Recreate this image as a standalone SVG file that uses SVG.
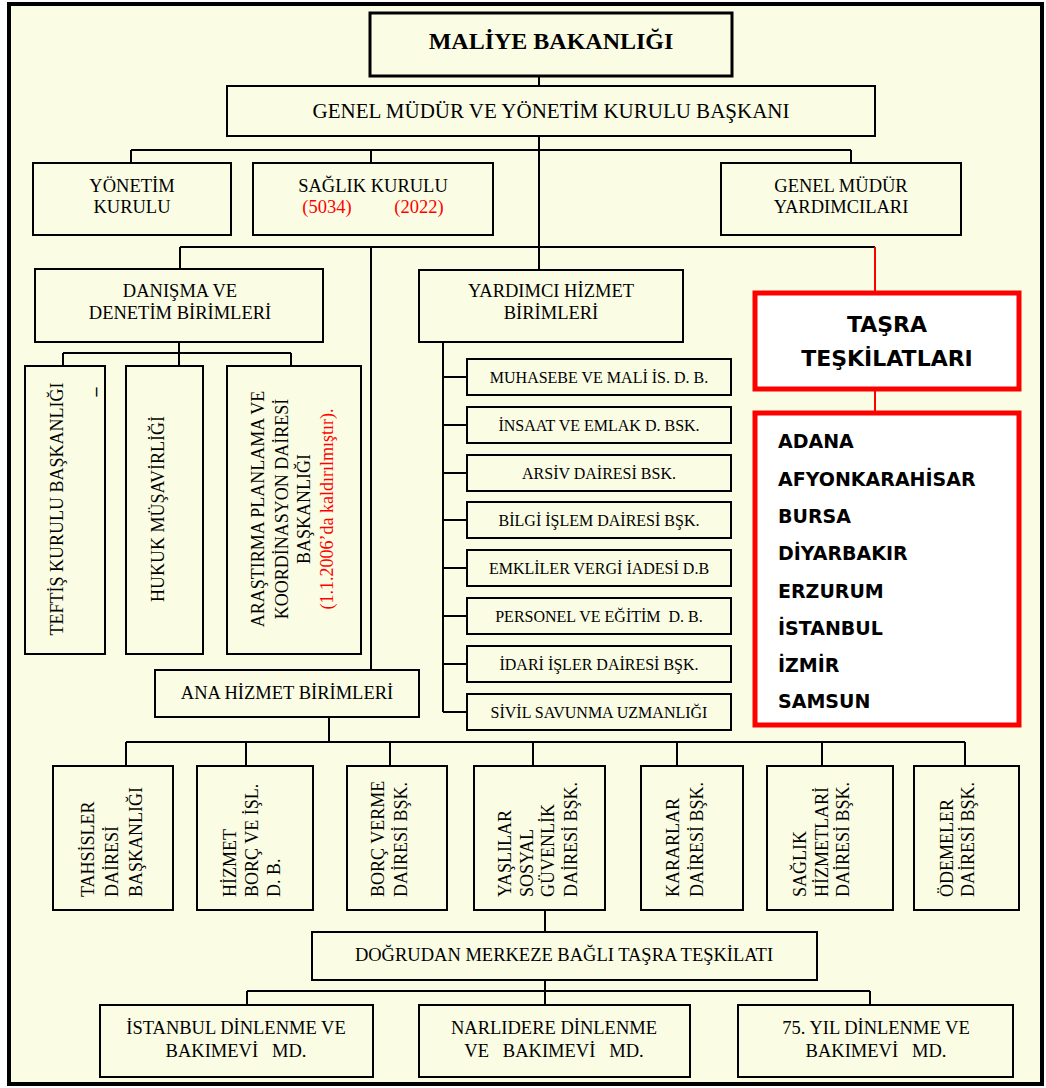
<svg xmlns="http://www.w3.org/2000/svg" width="1046" height="1088" viewBox="0 0 1046 1088">
<style>
.frame{fill:#FAFDE4;stroke:#000;stroke-width:4}
.b{fill:none;stroke:#000;stroke-width:2}
.bt{fill:none;stroke:#000;stroke-width:3}
.rb{fill:#FFFFFF;stroke:#FF0000;stroke-width:5}
.ln{fill:none;stroke:#000;stroke-width:2}
.rl{fill:none;stroke:#FF0000;stroke-width:2}
text{font-family:"Liberation Serif","Times New Roman",serif;font-size:18.5px;fill:#000}
.m{text-anchor:middle}
.s{font-size:16px}
.g{font-size:21px}
.h{font-size:24px;font-weight:bold}
.red{fill:#FF0000}
.c{font-family:"DejaVu Sans","Liberation Sans",sans-serif;font-weight:bold}
.c1{font-size:22px}
.c2{font-size:19px}
.v{font-size:18px}
</style>
<rect class="frame" x="9" y="4" width="1033" height="1080"/>

<g id="connectors">
<path class="ln" d="M539 76V86M539 136V270M131 150H851M131 150V163M371 150V163M851 150V163"/>
<path class="ln" d="M180 247H875M180 247V269M371 247V670"/>
<path class="rl" d="M875 247V293M875 389V413"/>
<path class="ln" d="M179 342V353M63 353H291M63 353V366M179 353V366M291 353V366"/>
<path class="ln" d="M443 342V712M443 377H467M443 425H467M443 473H467M443 520H467M443 568H467M443 616H467M443 664H467M443 712H467"/>
<path class="ln" d="M329 717V742M126 742H965M126 742V766M246 742V766M390 742V766M533 742V766M677 742V766M822 742V766M965 742V766"/>
<path class="ln" d="M545 910V932M545 980V991M247 991H870M247 991V1005M545 991V1005M870 991V1005"/>
</g>

<g id="maliye">
<rect class="bt" x="370" y="13" width="362" height="63"/>
<text class="m h" x="551" y="49">MALİYE BAKANLIĞI</text>
</g>
<g id="genel-mudur">
<rect class="b" x="227" y="86" width="648" height="50"/>
<text class="m g" x="551" y="118">GENEL MÜDÜR VE YÖNETİM KURULU BAŞKANI</text>
</g>
<g id="yonetim-kurulu">
<rect class="b" x="33" y="163" width="198" height="72"/>
<text class="m" x="132" y="192">YÖNETİM</text>
<text class="m" x="132" y="213">KURULU</text>
</g>
<g id="saglik-kurulu">
<rect class="b" x="253" y="163" width="240" height="72"/>
<text class="m" x="373" y="192">SAĞLIK KURULU</text>
<text class="m red" x="327" y="213">(5034)</text>
<text class="m red" x="419" y="213">(2022)</text>
</g>
<g id="gm-yardimcilari">
<rect class="b" x="721" y="163" width="240" height="72"/>
<text class="m" x="841" y="192">GENEL MÜDÜR</text>
<text class="m" x="841" y="213">YARDIMCILARI</text>
</g>

<g id="danisma">
<rect class="b" x="35" y="269" width="288" height="73"/>
<text class="m" x="180" y="297">DANIŞMA VE</text>
<text class="m" x="180" y="319">DENETİM BİRİMLERİ</text>
</g>
<g id="teftis">
<rect class="b" x="25" y="366" width="80" height="288"/>
<text class="m v" transform="translate(63 509) rotate(-90)">TEFTİŞ KURULU BAŞKANLIĞI</text>
<text class="m v" font-weight="bold" transform="translate(101 392) rotate(-90)">–</text>
</g>
<g id="hukuk">
<rect class="b" x="126" y="366" width="77" height="288"/>
<text class="m v" transform="translate(164 509) rotate(-90)">HUKUK MÜŞAVİRLİĞİ</text>
</g>
<g id="arastirma">
<rect class="b" x="227" y="366" width="134" height="288"/>
<text class="m v" transform="translate(264 509) rotate(-90)">ARAŞTIRMA PLANLAMA VE</text>
<text class="m v" transform="translate(288 509) rotate(-90)">KOORDİNASYON DAİRESİ</text>
<text class="m v" transform="translate(310 509) rotate(-90)">BAŞKANLIĞI</text>
<text class="m v red" transform="translate(333 509) rotate(-90)">(1.1.2006’da kaldırılmıştır).</text>
</g>

<g id="yardimci">
<rect class="b" x="419" y="270" width="264" height="72"/>
<text class="m" x="551" y="297">YARDIMCI HİZMET</text>
<text class="m" x="551" y="319">BİRİMLERİ</text>
</g>
<g id="muhasebe"><rect class="b" x="467" y="359" width="264" height="36"/><text class="m s" x="599" y="383">MUHASEBE VE MALİ İS. D. B.</text></g>
<g id="insaat"><rect class="b" x="467" y="407" width="264" height="36"/><text class="m s" x="599" y="431">İNSAAT VE EMLAK D. BSK.</text></g>
<g id="arsiv"><rect class="b" x="467" y="455" width="264" height="36"/><text class="m s" x="599" y="479">ARSİV DAİRESİ BSK.</text></g>
<g id="bilgi"><rect class="b" x="467" y="502" width="264" height="36"/><text class="m s" x="599" y="526">BİLGİ İŞLEM DAİRESİ BŞK.</text></g>
<g id="emekliler"><rect class="b" x="467" y="550" width="264" height="36"/><text class="m s" x="599" y="574">EMKLİLER VERGİ İADESİ D.B</text></g>
<g id="personel"><rect class="b" x="467" y="598" width="264" height="36"/><text class="m s" x="599" y="622" xml:space="preserve">PERSONEL VE EĞİTİM  D. B.</text></g>
<g id="idari"><rect class="b" x="467" y="646" width="264" height="36"/><text class="m s" x="599" y="670">İDARİ İŞLER DAİRESİ BŞK.</text></g>
<g id="sivil"><rect class="b" x="467" y="694" width="264" height="36"/><text class="m s" x="599" y="718">SİVİL SAVUNMA UZMANLIĞI</text></g>

<g id="tasra">
<rect class="rb" x="755" y="293" width="264" height="96"/>
<text class="m c c1" x="887" y="332">TAŞRA</text>
<text class="m c c1" x="887" y="366">TEŞKİLATLARI</text>
</g>
<g id="tasra-list">
<rect class="rb" x="755" y="413" width="264" height="312"/>
<text class="c c2" x="778" y="448">ADANA</text>
<text class="c c2" x="778" y="486">AFYONKARAHİSAR</text>
<text class="c c2" x="778" y="523">BURSA</text>
<text class="c c2" x="778" y="560">DİYARBAKIR</text>
<text class="c c2" x="778" y="598">ERZURUM</text>
<text class="c c2" x="778" y="635">İSTANBUL</text>
<text class="c c2" x="778" y="672">İZMİR</text>
<text class="c c2" x="778" y="708">SAMSUN</text>
</g>

<g id="ana-hizmet">
<rect class="b" x="155" y="670" width="264" height="47"/>
<text class="m" x="287" y="699">ANA HİZMET BİRİMLERİ</text>
</g>

<g id="tahsisler">
<rect class="b" x="53" y="766" width="120" height="144"/>
<text class="v" transform="translate(94 897) rotate(-90)">TAHSİSLER</text>
<text class="v" transform="translate(118 897) rotate(-90)">DAİRESİ</text>
<text class="v" transform="translate(142 897) rotate(-90)">BAŞKANLIĞI</text>
</g>
<g id="hizmet-borc">
<rect class="b" x="197" y="766" width="116" height="144"/>
<text class="v" transform="translate(236 897) rotate(-90)">HİZMET</text>
<text class="v" transform="translate(258 897) rotate(-90)">BORÇ VE İŞL.</text>
<text class="v" transform="translate(280 897) rotate(-90)">D. B.</text>
</g>
<g id="borc-verme">
<rect class="b" x="347" y="766" width="100" height="144"/>
<text class="v" transform="translate(384 897) rotate(-90)">BORÇ VERME</text>
<text class="v" transform="translate(407 897) rotate(-90)">DAİRESİ BŞK.</text>
</g>
<g id="yaslilar">
<rect class="b" x="474" y="766" width="131" height="144"/>
<text class="v" transform="translate(511 897) rotate(-90)">YAŞLILAR</text>
<text class="v" transform="translate(533 897) rotate(-90)">SOSYAL</text>
<text class="v" transform="translate(554 897) rotate(-90)">GÜVENLİK</text>
<text class="v" transform="translate(577 897) rotate(-90)">DAİRESİ BŞK.</text>
</g>
<g id="kararlar">
<rect class="b" x="641" y="766" width="102" height="144"/>
<text class="v" transform="translate(679 897) rotate(-90)">KARARLAR</text>
<text class="v" transform="translate(703 897) rotate(-90)">DAİRESİ BŞK.</text>
</g>
<g id="saglik-hizmetleri">
<rect class="b" x="767" y="766" width="126" height="144"/>
<text class="v" transform="translate(806 897) rotate(-90)">SAĞLIK</text>
<text class="v" transform="translate(828 897) rotate(-90)">HİZMETLARİ</text>
<text class="v" transform="translate(849 897) rotate(-90)">DAİRESİ BŞK.</text>
</g>
<g id="odemeler">
<rect class="b" x="914" y="766" width="105" height="144"/>
<text class="v" transform="translate(953 897) rotate(-90)">ÖDEMELER</text>
<text class="v" transform="translate(974 897) rotate(-90)">DAİRESİ BŞK.</text>
</g>

<g id="dogrudan">
<rect class="b" x="312" y="932" width="505" height="48"/>
<text class="m" x="564" y="961">DOĞRUDAN MERKEZE BAĞLI TAŞRA TEŞKİLATI</text>
</g>
<g id="istanbul-bakimevi">
<rect class="b" x="100" y="1005" width="273" height="72"/>
<text class="m" x="236" y="1034">İSTANBUL DİNLENME VE</text>
<text class="m" x="236" y="1057" xml:space="preserve">BAKIMEVİ   MD.</text>
</g>
<g id="narlidere-bakimevi">
<rect class="b" x="419" y="1005" width="271" height="72"/>
<text class="m" x="554" y="1034">NARLIDERE DİNLENME</text>
<text class="m" x="554" y="1057" xml:space="preserve">VE   BAKIMEVİ   MD.</text>
</g>
<g id="yil75-bakimevi">
<rect class="b" x="738" y="1005" width="275" height="72"/>
<text class="m" x="876" y="1034">75. YIL DİNLENME VE</text>
<text class="m" x="876" y="1057" xml:space="preserve">BAKIMEVİ   MD.</text>
</g>
</svg>
